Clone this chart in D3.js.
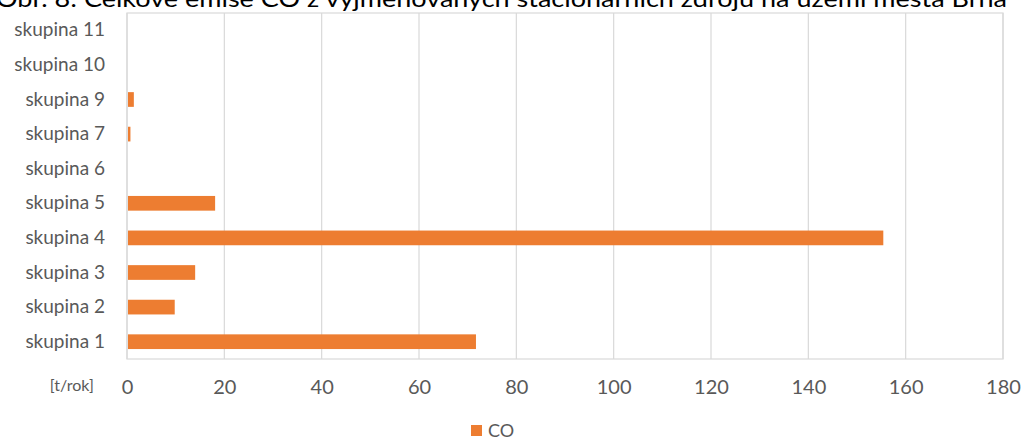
<!DOCTYPE html>
<html>
<head>
<meta charset="utf-8">
<script src="https://cdn.jsdelivr.net/npm/d3@7"></script>
<style>
  html, body { margin: 0; padding: 0; background: #fff; }
  svg { display: block; }
</style>
</head>
<body>
<svg id="chart" width="1027" height="440"></svg>
<script>
// Emission groups (bottom to top as drawn) and CO emissions in t/rok
const categories = ["skupina 1", "skupina 2", "skupina 3", "skupina 4", "skupina 5",
                    "skupina 6", "skupina 7", "skupina 9", "skupina 10", "skupina 11"];
const coValues = [71.5, 9.6, 13.8, 155.2, 17.9, 0, 0.5, 1.2, 0, 0];
const xTicks = [0, 20, 40, 60, 80, 100, 120, 140, 160, 180];
const seriesName = "CO";
const unitLabel = "[t/rok]";
const titleText = "Obr. 8: Celkové emise CO z vyjmenovaných stacionárních zdrojů na území města Brna";

const svg = d3.select("#chart");
const font = "Lato, 'Open Sans', sans-serif";
const textColor = "#595959";
const gridColor = "#d9d9d9";
const barColor = "#ED7D31";

const plot = { left: 127, right: 1003, top: 13, bottom: 359 };

const x = d3.scaleLinear().domain([0, 180]).range([plot.left, plot.right]);
const y = d3.scaleBand()
  .domain(categories.slice().reverse())
  .range([plot.top, plot.bottom])
  .paddingInner(0.575)
  .paddingOuter(0.2875);

// Title (runs past the top edge of the canvas)
svg.append("text")
  .attr("x", -4).attr("y", 6.5)
  .attr("font-family", font)
  .attr("font-size", 23)
  .attr("fill", "#000")
  .attr("textLength", 1011)
  .attr("lengthAdjust", "spacingAndGlyphs")
  .text(titleText);

// Vertical gridlines
svg.append("g")
  .selectAll("line")
  .data(xTicks)
  .join("line")
  .attr("x1", d => x(d)).attr("x2", d => x(d))
  .attr("y1", plot.top).attr("y2", plot.bottom)
  .attr("stroke", gridColor)
  .attr("stroke-width", 1.2);

// Plot frame
svg.append("rect")
  .attr("x", plot.left).attr("y", plot.top)
  .attr("width", plot.right - plot.left)
  .attr("height", plot.bottom - plot.top)
  .attr("fill", "none")
  .attr("stroke", gridColor)
  .attr("stroke-width", 1.2);

// Bars
svg.append("g")
  .selectAll("rect")
  .data(categories.map((c, i) => ({ c, v: coValues[i] })))
  .join("rect")
  .attr("x", x(0) + 1)
  .attr("y", d => y(d.c))
  .attr("width", d => Math.max(0, x(d.v) - x(0)))
  .attr("height", y.bandwidth())
  .attr("fill", barColor);

// Category axis
const yAxis = d3.axisLeft(y).tickSize(0).tickPadding(22);
const gy = svg.append("g")
  .attr("transform", `translate(${plot.left},0)`)
  .call(yAxis);
gy.select(".domain").remove();
gy.selectAll("text")
  .attr("font-family", font)
  .attr("font-size", 19)
  .attr("fill", textColor);

// Value axis
const xAxis = d3.axisBottom(x).tickValues(xTicks).tickSize(0).tickPadding(21);
const gx = svg.append("g")
  .attr("transform", `translate(0,${plot.bottom})`)
  .call(xAxis);
gx.select(".domain").remove();
gx.selectAll("text")
  .attr("font-family", font)
  .attr("font-size", 20)
  .attr("fill", textColor);

// Unit label
svg.append("text")
  .attr("x", 94).attr("y", 391)
  .attr("text-anchor", "end")
  .attr("font-family", font)
  .attr("font-size", 16)
  .attr("fill", textColor)
  .text(unitLabel);

// Legend
const legend = svg.append("g").attr("transform", "translate(471,425)");
legend.append("rect")
  .attr("width", 11).attr("height", 11)
  .attr("fill", barColor);
legend.append("text")
  .attr("x", 17).attr("y", 12)
  .attr("font-family", font)
  .attr("font-size", 18)
  .attr("fill", textColor)
  .text(seriesName);
</script>
</body>
</html>
